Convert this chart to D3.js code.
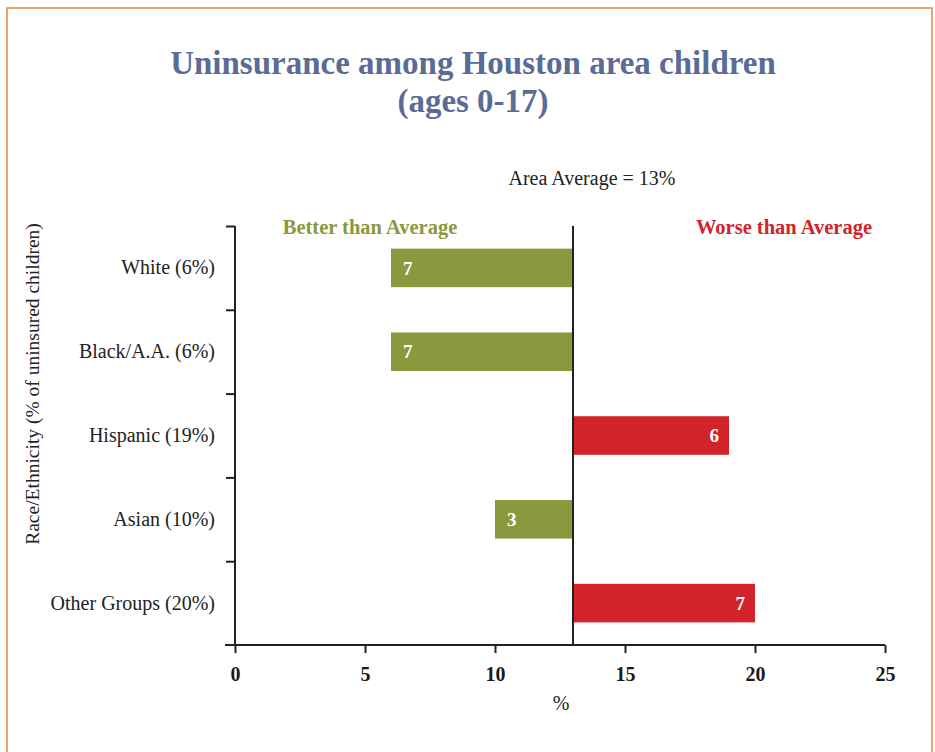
<!DOCTYPE html>
<html><head><meta charset="utf-8">
<script src="https://cdn.jsdelivr.net/npm/d3@7"></script>
<style>
html,body{margin:0;padding:0;background:#fff;}
svg text{font-family:"Liberation Serif","DejaVu Serif",serif;}
</style></head>
<body><svg id="c" width="935" height="752"></svg>
<script>
const categories = ["White (6%)", "Black/A.A. (6%)", "Hispanic (19%)", "Asian (10%)", "Other Groups (20%)"];
const rates = [6, 6, 19, 10, 20];
const areaAverage = 13;
const differences = [7, 7, 6, 3, 7];
const xTicks = [0, 5, 10, 15, 20, 25];

const svg = d3.select("#c");
const green = "#8a983e", red = "#d2232a";

svg.append("rect").attr("x", 7).attr("y", 8).attr("width", 925).attr("height", 760)
  .attr("fill", "none").attr("stroke", "#e4873a").attr("stroke-width", 1.5);

svg.append("text").attr("x", 473).attr("y", 74).attr("text-anchor", "middle")
  .attr("fill", "#5b6b97").attr("font-weight", "bold").attr("font-size", 33)
  .text("Uninsurance among Houston area children");
svg.append("text").attr("x", 473).attr("y", 112).attr("text-anchor", "middle")
  .attr("fill", "#5b6b97").attr("font-weight", "bold").attr("font-size", 33)
  .text("(ages 0-17)");

const pL = 235, pR = 885, pT = 226, pB = 645;
const x = d3.scaleLinear().domain([0, 25]).range([pL, pR]);
const y = d3.scaleBand().domain(categories).range([pT, pB]).paddingInner(0.54).paddingOuter(0.27);
const yEdge = d3.scaleLinear().domain([0, categories.length]).range([pT, pB]);

// x axis
const gx = svg.append("g").attr("transform", `translate(0,${pB})`)
  .call(d3.axisBottom(x).tickValues(xTicks).tickSize(8).tickSizeOuter(0).tickPadding(14));
gx.select(".domain").remove();
svg.append("line").attr("x1", pL - 10).attr("x2", pR).attr("y1", pB).attr("y2", pB)
  .attr("stroke", "#222").attr("stroke-width", 2);
gx.selectAll(".tick line").attr("stroke", "#222").attr("stroke-width", 2);
gx.selectAll(".tick text").attr("font-family", "Liberation Serif").attr("font-weight", "bold")
  .attr("font-size", 20).attr("fill", "#1a1a1a");

// y axis boundary ticks
const gy = svg.append("g").attr("transform", `translate(${pL},0)`)
  .call(d3.axisLeft(yEdge).tickValues(d3.range(0, categories.length)).tickSize(9).tickFormat(""));
gy.select(".domain").attr("stroke", "#222").attr("stroke-width", 2).attr("d", `M0,${pT}V${pB}`);
gy.selectAll(".tick line").attr("stroke", "#222").attr("stroke-width", 2);

// category labels
const gl = svg.append("g").attr("transform", `translate(${pL},0)`)
  .call(d3.axisLeft(y).tickSize(0).tickPadding(20));
gl.select(".domain").remove();
gl.selectAll(".tick text").attr("font-family", "Liberation Serif").attr("font-size", 20).attr("fill", "#222");

// bars
const rows = categories.map((c, i) => ({ c, rate: rates[i], diff: differences[i] }));
svg.append("g").selectAll("rect").data(rows).join("rect")
  .attr("x", d => x(Math.min(d.rate, areaAverage)))
  .attr("width", d => Math.abs(x(d.rate) - x(areaAverage)))
  .attr("y", d => y(d.c)).attr("height", y.bandwidth())
  .attr("fill", d => d.rate < areaAverage ? green : red);

svg.append("g").selectAll("text").data(rows).join("text")
  .attr("x", d => d.rate < areaAverage ? x(d.rate) + 12 : x(d.rate) - 10)
  .attr("text-anchor", d => d.rate < areaAverage ? "start" : "end")
  .attr("y", d => y(d.c) + y.bandwidth() / 2).attr("dy", "0.35em")
  .attr("fill", "#fff").attr("font-weight", "bold").attr("font-size", 19)
  .text(d => d.diff);

// average line
svg.append("line").attr("x1", x(areaAverage)).attr("x2", x(areaAverage)).attr("y1", pT).attr("y2", pB)
  .attr("stroke", "#222").attr("stroke-width", 2);

svg.append("text").attr("x", 592).attr("y", 185).attr("text-anchor", "middle")
  .attr("font-size", 20).attr("fill", "#222").text("Area Average = " + areaAverage + "%");
svg.append("text").attr("x", 370).attr("y", 234).attr("text-anchor", "middle")
  .attr("font-size", 20.5).attr("font-weight", "bold").attr("fill", green).text("Better than Average");
svg.append("text").attr("x", 784).attr("y", 234).attr("text-anchor", "middle")
  .attr("font-size", 20.5).attr("font-weight", "bold").attr("fill", red).text("Worse than Average");

svg.append("text").attr("x", 561).attr("y", 710).attr("text-anchor", "middle")
  .attr("font-size", 20).attr("fill", "#222").text("%");

svg.append("text").attr("transform", "translate(39,384) rotate(-90)").attr("text-anchor", "middle")
  .attr("font-size", 19.5).attr("fill", "#222").text("Race/Ethnicity (% of uninsured children)");
</script></body></html>
